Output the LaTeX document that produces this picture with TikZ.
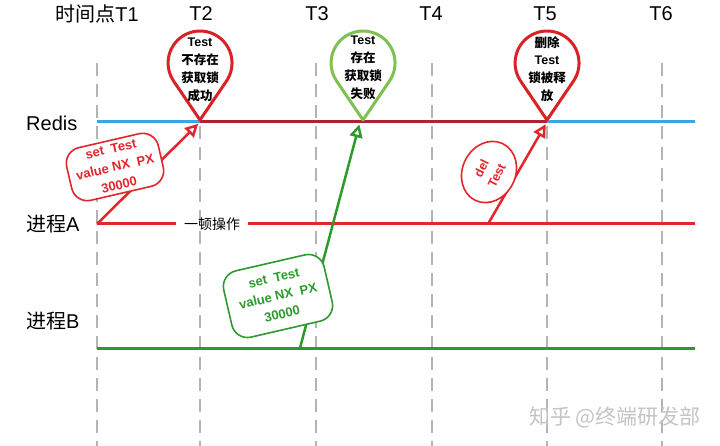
\documentclass[tikz,border=0pt]{standalone}
\usepackage{fontspec}
\setmainfont{Liberation Sans}
\newfontfamily\cjk{Noto Sans CJK SC}
\usetikzlibrary{arrows.meta,shapes.geometric}
\definecolor{redisblue}{HTML}{3EA6DC}
\definecolor{lockred}{HTML}{B0222E}
\definecolor{procred}{HTML}{E2262B}
\definecolor{procgreen}{HTML}{2E9A2E}
\definecolor{pingreen}{HTML}{7EC152}
\definecolor{pinred}{HTML}{D92128}
\definecolor{tickgray}{HTML}{B4B4B4}
\definecolor{markgray}{HTML}{C4C4C4}

\begin{document}
\begin{tikzpicture}[x=1pt,y=1pt]
\tikzstyle{every node}+=[inner sep=0pt]
\tikzstyle{tick}=[tickgray, line width=2.5pt, dash pattern=on 13pt off 8pt]
\tikzstyle{lane}=[line width=3pt]
\tikzstyle{head}=[font=\fontsize{20}{22}\selectfont]
\tikzstyle{pin}=[line width=3pt, fill=white, line join=round]
\tikzstyle{pintext}=[font=\bfseries\fontsize{12.5}{17.8}\selectfont, align=center]
\tikzstyle{bubble}=[draw, fill=white, line width=1.6pt, rounded corners=16pt, align=center, font=\bfseries\fontsize{13}{18.5}\selectfont, rotate=13]
\tikzstyle{call}=[line width=2.5pt, shorten >=2.5pt, -{Triangle[length=13pt, width=13pt, fill=white]}]
\useasboundingbox (0,0) rectangle (720,-446);
\fill [white] (0,0) rectangle (720,-446);
\draw [tick] (97,-63) -- (97,-446);
\draw [tick] (200,-63) -- (200,-446);
\draw [tick] (316,-63) -- (316,-446);
\draw [tick] (432,-63) -- (432,-446);
\draw [tick] (547,-63) -- (547,-446);
\draw [tick] (662,-63) -- (662,-446);
\draw (97,-14) node [head] (t1) {{\cjk 时间点}T1};
\draw (201,-14) node [head] (t2) {T2};
\draw (317,-14) node [head] (t3) {T3};
\draw (431,-14) node [head] (t4) {T4};
\draw (545,-14) node [head] (t5) {T5};
\draw (661,-14) node [head] (t6) {T6};
\draw (26,-123) node [head, right] (redis) {Redis};
\draw (26,-224) node [head, right] (procA) {{\cjk 进程}A};
\draw (26,-321) node [head, right] (procB) {{\cjk 进程}B};
\coordinate (r0) at (97,-122);
\coordinate (r2) at (200,-122);
\coordinate (r3) at (360,-122);
\coordinate (r5) at (547,-122);
\coordinate (r6) at (695,-122);
\coordinate (a0) at (97,-224);
\coordinate (a5) at (488,-224);
\coordinate (a6) at (695,-224);
\coordinate (b0) at (97,-348);
\coordinate (b2) at (300,-348);
\coordinate (b6) at (695,-348);
\draw [lane, redisblue] (r0) -- (r2);
\draw [lane, lockred] (r2) -- (r5);
\draw [lane, redisblue] (r5) -- (r6);
\draw (212,-224) node [inner xsep=8pt, font=\cjk\fontsize{14}{16}\selectfont] (busy) {一顿操作};
\draw [lane, procred] (a0) -- (busy) -- (a6);
\draw [lane, procgreen] (b0) -- (b6);
\draw [call, procred] (a0) -- (r2);
\draw [call, procgreen] (b2) -- (r3);
\draw [call, procred] (a5) -- (r5);
\draw (115,-167) node [procred, bubble, minimum width=94pt, minimum height=54pt] (setA) {set\ \ Test\\value NX\ \ PX\\30000};
\draw (278,-296) node [procgreen, bubble, minimum width=103pt, minimum height=68pt] (setB) {set\ \ Test\\value NX\ \ PX\\30000};
\draw (489,-172) node [procred, ellipse, draw, fill=white, line width=1.6pt, rotate=64, minimum width=63pt, minimum height=53pt, align=center, font=\bfseries\fontsize{12.5}{17}\selectfont] (delA) {del\\Test};
\draw [pinred, pin] (200,-120) -- ++(26.5,39) arc (-34.2:214.2:32) -- cycle;
\draw (200,-70) node [pintext] (pin2) {Test\\{\cjk 不存在}\\{\cjk 获取锁}\\{\cjk 成功}};
\draw [pingreen, pin] (363,-120) -- ++(26.5,39) arc (-34.2:214.2:32) -- cycle;
\draw (363,-68) node [pintext] (pin3) {Test\\{\cjk 存在}\\{\cjk 获取锁}\\{\cjk 失败}};
\draw [pinred, pin] (547,-120) -- ++(26.5,39) arc (-34.2:214.2:32) -- cycle;
\draw (547,-69) node [pintext] (pin5) {{\cjk 删除}\\Test\\{\cjk 锁被释}\\{\cjk 放}};
\draw (701,-417) node [left, markgray, font=\cjk\fontsize{21}{23}\selectfont] (mark) {知乎 @终端研发部};
\end{tikzpicture}
\end{document}
